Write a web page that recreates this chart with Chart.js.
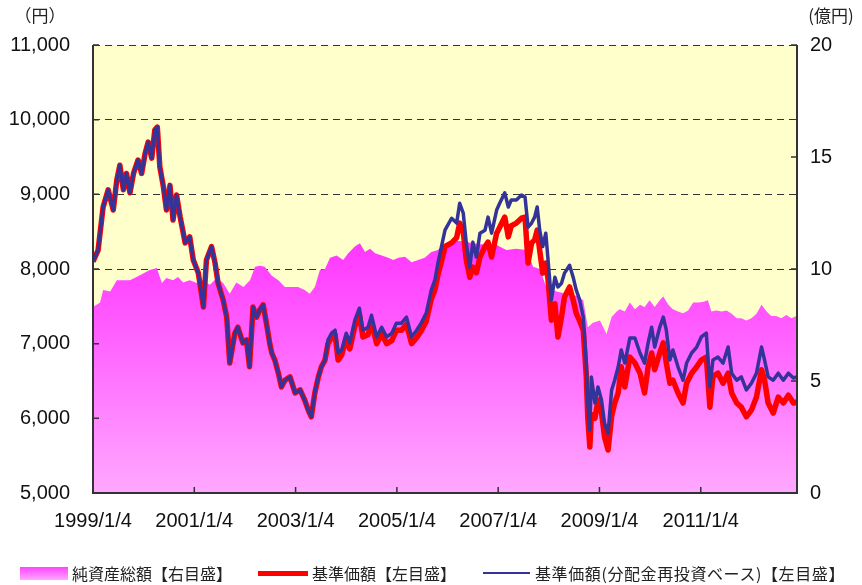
<!DOCTYPE html>
<html lang="ja">
<head>
<meta charset="utf-8">
<script src="https://cdn.jsdelivr.net/npm/chart.js@4.4.1/dist/chart.umd.min.js"></script>
<style>
  body { margin: 0; background: #fff; }
  #wrap { position: relative; width: 862px; height: 585px; }
  .lg { position: absolute; top: 563px; font: 16px "Noto Sans CJK JP", sans-serif; color: #222; white-space: nowrap; line-height: 20px; }
  .sw { position: absolute; }
</style>
</head>
<body>
<div id="wrap">
  <canvas id="fundChart" width="862" height="585"></canvas>
  <span class="sw" style="left:20px;top:567px;width:48px;height:13px;background:linear-gradient(#ff44ff,#ffa8ff);"></span>
  <span class="lg" style="left:72px;">純資産総額【右目盛】</span>
  <span class="sw" style="left:258px;top:571px;width:50px;height:5px;background:#ff0000;"></span>
  <span class="lg" style="left:312px;">基準価額【左目盛】</span>
  <span class="sw" style="left:483px;top:572px;width:47px;height:2px;background:#333399;"></span>
  <span class="lg" style="left:535px;letter-spacing:0.6px;">基準価額(分配金再投資ベース)【左目盛】</span>
</div>
<script>
// dates as decimal years
const priceDates = [
  1999.00, 1999.10, 1999.20, 1999.30, 1999.40, 1999.47, 1999.53, 1999.60, 1999.66, 1999.73,
  1999.80, 1999.89, 1999.96, 2000.03, 2000.09, 2000.16, 2000.22, 2000.27, 2000.32, 2000.39,
  2000.45, 2000.52, 2000.58, 2000.65, 2000.72, 2000.82, 2000.91, 2000.98, 2001.08, 2001.18,
  2001.24, 2001.34, 2001.41, 2001.47, 2001.57, 2001.64, 2001.70, 2001.80, 2001.86, 2001.96,
  2002.03, 2002.09, 2002.16, 2002.23, 2002.29, 2002.36, 2002.43, 2002.49, 2002.53, 2002.59,
  2002.66, 2002.72, 2002.79, 2002.89, 2002.99, 2003.09, 2003.18, 2003.25, 2003.31, 2003.38,
  2003.45, 2003.51, 2003.58, 2003.64, 2003.71, 2003.78, 2003.84, 2003.91, 2004.00, 2004.07,
  2004.17, 2004.26, 2004.33, 2004.43, 2004.50, 2004.60, 2004.70, 2004.80, 2004.90, 2004.99,
  2005.09, 2005.19, 2005.29, 2005.39, 2005.48, 2005.58, 2005.68, 2005.75, 2005.81, 2005.88,
  2005.95, 2006.08, 2006.18, 2006.24, 2006.31, 2006.37, 2006.44, 2006.50, 2006.57, 2006.64,
  2006.74, 2006.80, 2006.87, 2006.97, 2007.03, 2007.13, 2007.20, 2007.26, 2007.36, 2007.46,
  2007.53, 2007.59, 2007.66, 2007.72, 2007.77, 2007.82, 2007.88, 2007.94, 2007.98, 2008.05,
  2008.12, 2008.18, 2008.25, 2008.31, 2008.41, 2008.48, 2008.54, 2008.61, 2008.68, 2008.74,
  2008.77, 2008.81, 2008.84, 2008.91, 2008.97, 2009.04, 2009.10, 2009.17, 2009.24, 2009.30,
  2009.37, 2009.43, 2009.50, 2009.60, 2009.70, 2009.80, 2009.89, 2009.96, 2010.03, 2010.09,
  2010.19, 2010.26, 2010.32, 2010.39, 2010.45, 2010.55, 2010.65, 2010.72, 2010.82, 2010.92,
  2011.01, 2011.11, 2011.18, 2011.24, 2011.34, 2011.44, 2011.54, 2011.61, 2011.71, 2011.80,
  2011.90, 2012.00, 2012.10, 2012.20, 2012.26, 2012.33, 2012.43, 2012.53, 2012.63, 2012.73,
  2012.83, 2012.90
];

// 基準価額(分配金再投資ベース) (円)
const reinvestValues = [
  8100, 8250, 8830, 9060, 8790, 9190, 9390, 9060, 9280, 9020,
  9280, 9460, 9280, 9550, 9700, 9485, 9860, 9900, 9365, 9100,
  8790, 9120, 8655, 8990, 8700, 8350, 8430, 8120, 7945, 7490,
  8120, 8300, 8080, 7810, 7585, 7355, 6740, 7140, 7220, 7010,
  7050, 6690, 7490, 7355, 7450, 7520, 7250, 7000, 6875, 6780,
  6605, 6420, 6510, 6555, 6340, 6380, 6245, 6110, 6020, 6340,
  6555, 6690, 6780, 7050, 7140, 7180, 6875, 6915, 7140, 7010,
  7315, 7475, 7180, 7220, 7380, 7090, 7220, 7090, 7140, 7275,
  7275, 7355, 7090, 7180, 7275, 7410, 7720, 7850, 8080, 8300,
  8520, 8680, 8615, 8880, 8750, 8350, 8025, 8360, 8160, 8480,
  8520, 8695, 8480, 8790, 8880, 9020, 8830, 8925, 8925, 8990,
  8965, 8560, 8615, 8695, 8830, 8520, 8300, 8480, 8160, 7585,
  7890, 7760, 7810, 7945, 8050, 7890, 7720, 7585, 7355, 6740,
  6205, 5845, 6555, 6205, 6420, 6245, 5935, 5800, 6380, 6510,
  6690, 6915, 6740, 7075, 7075, 6875, 6740, 7010, 7220, 6955,
  7220, 7355, 7180, 6780, 6915, 6690, 6510, 6740, 6875, 6955,
  7090, 7140, 6420, 6780, 6820, 6740, 6955, 6605, 6510, 6555,
  6380, 6470, 6605, 6955, 6780, 6555, 6510, 6605, 6510, 6605,
  6540, 6555
];

// 基準価額 (円)
const navValues = [
  8100, 8250, 8830, 9060, 8790, 9190, 9390, 9060, 9280, 9020,
  9280, 9460, 9280, 9550, 9700, 9485, 9860, 9900, 9365, 9100,
  8790, 9120, 8655, 8990, 8700, 8350, 8430, 8120, 7945, 7490,
  8120, 8300, 8080, 7810, 7585, 7355, 6740, 7140, 7220, 7010,
  7050, 6690, 7490, 7355, 7450, 7520, 7250, 7000, 6875, 6780,
  6605, 6420, 6510, 6555, 6340, 6380, 6245, 6110, 6020, 6340,
  6555, 6690, 6780, 7000, 7080, 7120, 6780, 6850, 7070, 6930,
  7230, 7390, 7090, 7120, 7290, 7000, 7130, 7000, 7040, 7180,
  7180, 7260, 7000, 7080, 7170, 7300, 7600, 7720, 7920, 8100,
  8300, 8350, 8420, 8615, 8500, 8120, 7890, 8025, 7950, 8160,
  8300, 8360, 8160, 8480, 8560, 8695, 8430, 8580, 8615, 8680,
  8695, 8080, 8350, 8390, 8520, 8250, 7945, 8080, 7890, 7315,
  7535, 7090, 7355, 7625, 7760, 7585, 7410, 7300, 7180, 6555,
  6000, 5615, 6050, 6000, 6245, 6075, 5750, 5575, 6030, 6205,
  6340, 6690, 6420, 6820, 6740, 6605, 6340, 6690, 6875, 6650,
  6875, 7010, 6740, 6470, 6510, 6340, 6205, 6470, 6605, 6690,
  6780, 6820, 6150, 6560, 6605, 6470, 6605, 6340, 6205, 6150,
  6020, 6110, 6285, 6650, 6510, 6205, 6070, 6285, 6205, 6310,
  6205, 6220
];

// 純資産総額 (億円)
const assetDates = [
  1999.00, 1999.14, 1999.20, 1999.34, 1999.47, 1999.60, 1999.73, 1999.86, 1999.99, 2000.12,
  2000.26, 2000.36, 2000.45, 2000.58, 2000.68, 2000.78, 2000.91, 2001.05, 2001.18, 2001.31,
  2001.44, 2001.57, 2001.70, 2001.83, 2001.97, 2002.10, 2002.20, 2002.30, 2002.39, 2002.53,
  2002.66, 2002.79, 2002.92, 2003.05, 2003.18, 2003.28, 2003.38, 2003.48, 2003.58, 2003.68,
  2003.81, 2003.94, 2004.04, 2004.17, 2004.27, 2004.37, 2004.47, 2004.57, 2004.70, 2004.83,
  2004.93, 2005.03, 2005.16, 2005.29, 2005.42, 2005.55, 2005.68, 2005.81, 2005.95, 2006.11,
  2006.37, 2006.64, 2006.97, 2007.16, 2007.36, 2007.56, 2007.69, 2007.82, 2007.95, 2008.15,
  2008.35, 2008.55, 2008.68, 2008.77, 2008.87, 2009.01, 2009.14, 2009.24, 2009.34, 2009.40,
  2009.50, 2009.60, 2009.70, 2009.80, 2009.89, 2009.99, 2010.09, 2010.19, 2010.26, 2010.36,
  2010.45, 2010.55, 2010.65, 2010.75, 2010.85, 2010.95, 2011.04, 2011.14, 2011.21, 2011.31,
  2011.41, 2011.51, 2011.61, 2011.71, 2011.80, 2011.90, 2012.00, 2012.10, 2012.20, 2012.30,
  2012.39, 2012.49, 2012.59, 2012.69, 2012.79, 2012.89
];
const assetValues = [
  8.3, 8.5, 9.06, 9.0, 9.5, 9.5, 9.5, 9.64, 9.8, 9.96,
  10.04, 9.37, 9.6, 9.5, 9.64, 9.4, 9.5, 9.37, 9.45, 9.3,
  9.6, 9.37, 8.9, 9.4, 9.2, 9.5, 10.1, 10.15, 10.1, 9.7,
  9.5, 9.2, 9.2, 9.2, 9.06, 8.9, 9.2, 9.96, 10.0, 10.5,
  10.6, 10.4, 10.7, 11.0, 11.15, 10.76, 10.9, 10.7, 10.6, 10.5,
  10.4, 10.5, 10.55, 10.3, 10.4, 10.5, 10.76, 10.85, 11.15, 11.3,
  11.2, 11.1, 11.07, 10.85, 10.9, 10.85, 10.1, 10.0, 9.2, 9.0,
  8.9, 8.8, 8.6, 7.4, 7.6, 7.7, 7.1, 7.86, 8.1, 8.2,
  8.1, 8.5, 8.2, 8.4, 8.3, 8.6, 8.3, 8.6, 8.77, 8.4,
  8.2, 8.1, 8.03, 8.15, 8.5, 8.5, 8.53, 8.6, 8.1, 8.15,
  8.1, 8.15, 8.0, 7.8, 7.8, 7.7, 7.8, 8.0, 8.4, 8.1,
  7.9, 7.9, 7.8, 7.95, 7.8, 7.9
];

const xTickYears = [1999, 2001, 2003, 2005, 2007, 2009, 2011];

const toPoints = (xs, ys) => xs.map((x, i) => ({x: x, y: ys[i]}));

const chartBg = {
  id: 'chartBg',
  beforeDraw(chart) {
    const {ctx, chartArea: a} = chart;
    ctx.save();
    ctx.fillStyle = '#ffffcc';
    ctx.fillRect(a.left, a.top, a.right - a.left, a.bottom - a.top);
    ctx.restore();
  }
};

const frame = {
  id: 'frame',
  afterDatasetsDraw(chart) {
    const {ctx, chartArea: a, scales} = chart;
    ctx.save();
    ctx.strokeStyle = '#333';
    ctx.lineWidth = 2;
    ctx.beginPath();
    ctx.moveTo(a.left, a.top);
    ctx.lineTo(a.left, a.bottom);
    ctx.lineTo(a.right, a.bottom);
    ctx.lineTo(a.right, a.top);
    ctx.stroke();
    // tick marks point inward
    ctx.lineWidth = 1.5;
    ctx.beginPath();
    scales.y.ticks.forEach(t => {
      const py = scales.y.getPixelForValue(t.value);
      ctx.moveTo(a.left, py); ctx.lineTo(a.left + 6, py);
    });
    scales.y1.ticks.forEach(t => {
      const py = scales.y1.getPixelForValue(t.value);
      ctx.moveTo(a.right, py); ctx.lineTo(a.right - 6, py);
    });
    scales.x.ticks.forEach(t => {
      const px = scales.x.getPixelForValue(t.value);
      ctx.moveTo(px, a.bottom); ctx.lineTo(px, a.bottom - 6);
    });
    ctx.stroke();
    ctx.fillStyle = '#222';
    ctx.font = '17px "Noto Sans CJK JP"';
    ctx.textBaseline = 'middle';
    ctx.textAlign = 'center';
    ctx.fillText('（円）', 40, 16);
    ctx.fillText('(億円)', 831, 16);
    ctx.restore();
  }
};

const tickFont = {family: '"Liberation Sans", Arial, sans-serif', size: 20};

new Chart(document.getElementById('fundChart'), {
  type: 'line',
  data: {
    datasets: [
      {
        label: '基準価額(分配金再投資ベース)【左目盛】',
        data: toPoints(priceDates, reinvestValues),
        yAxisID: 'y',
        borderColor: '#333399',
        borderWidth: 3.5,
        pointRadius: 0,
        tension: 0,
        borderJoinStyle: 'round',
        order: 0
      },
      {
        label: '基準価額【左目盛】',
        data: toPoints(priceDates, navValues),
        yAxisID: 'y',
        borderColor: '#ff0000',
        borderWidth: 5.5,
        pointRadius: 0,
        tension: 0,
        borderJoinStyle: 'round',
        order: 1
      },
      {
        label: '純資産総額【右目盛】',
        data: toPoints(assetDates, assetValues),
        yAxisID: 'y1',
        borderWidth: 0,
        pointRadius: 0,
        tension: 0,
        fill: 'origin',
        backgroundColor: (c) => {
          const {ctx, chartArea, scales} = c.chart;
          if (!chartArea) return '#ff66ff';
          const g = ctx.createLinearGradient(0, scales.y1.getPixelForValue(11.5), 0, chartArea.bottom);
          g.addColorStop(0, '#ff33ff');
          g.addColorStop(1, '#ffa8ff');
          return g;
        },
        order: 2
      }
    ]
  },
  options: {
    responsive: false,
    animation: false,
    devicePixelRatio: 1,
    layout: {padding: {top: 45, left: 0, right: 0, bottom: 0}},
    plugins: {legend: {display: false}, tooltip: {enabled: false}},
    scales: {
      x: {
        type: 'linear',
        min: 1999,
        max: 2012.9,
        afterBuildTicks: (s) => { s.ticks = xTickYears.map(v => ({value: v})); },
        afterFit: (s) => { s.height = 92; },
        grid: {display: false, drawTicks: false},
        border: {display: false},
        ticks: {
          padding: 16,
          color: '#111',
          font: tickFont,
          maxRotation: 0,
          autoSkip: false,
          callback: (v) => v + '/1/4'
        }
      },
      y: {
        position: 'left',
        min: 5000,
        max: 11000,
        afterFit: (s) => { s.width = 93; },
        grid: {color: '#333', lineWidth: 1, drawTicks: false},
        border: {display: false, dash: [7, 5]},
        ticks: {
          stepSize: 1000,
          padding: 23,
          color: '#111',
          font: tickFont,
          callback: (v) => v.toLocaleString('en-US')
        }
      },
      y1: {
        position: 'right',
        min: 0,
        max: 20,
        afterFit: (s) => { s.width = 65; },
        grid: {display: false, drawTicks: false},
        border: {display: false},
        ticks: {stepSize: 5, padding: 13, color: '#111', font: tickFont}
      }
    }
  },
  plugins: [chartBg, frame]
});
</script>
</body>
</html>
